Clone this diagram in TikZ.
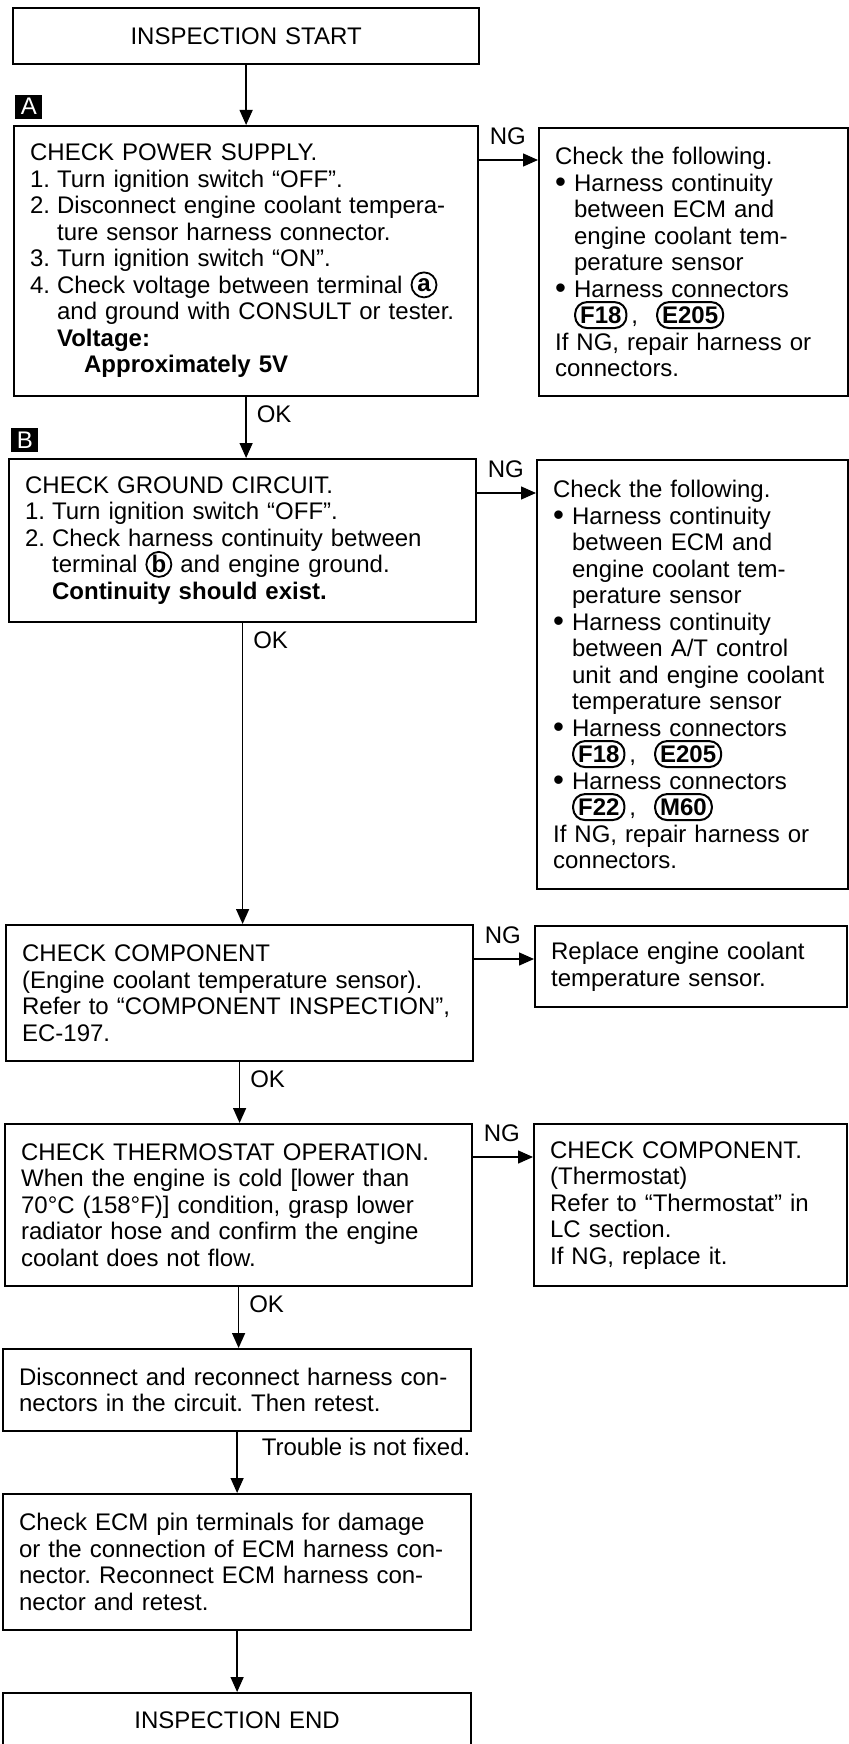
\documentclass[tikz,border=0pt]{standalone}
\usepackage{graphicx}
\usepackage{fontspec}
\setmainfont{Liberation Sans}
\usetikzlibrary{arrows.meta}

\newcommand{\numit}[1]{\makebox[13.5pt][l]{#1}}
\newcommand{\numind}{\hspace*{13.5pt}}
\newcommand{\bulit}{\makebox[9.5pt][l]{\raisebox{-.6pt}{\scalebox{1.3}{\textbullet}}}}
\newcommand{\bulind}{\hspace*{9.5pt}}
\newcommand{\termc}[1]{\smash{\tikz[baseline={([yshift=-4.3pt]t.center)}]
 \node[draw,circle,line width=.9pt,inner sep=0pt,minimum size=12.5pt,text width={},
 align=center,anchor=center,font=\bfseries] (t) {#1};}}
\newcommand{\connov}[1]{\smash{\tikz[baseline={([yshift=-4.3pt]c.center)}]
 \node[draw,rectangle,rounded corners=6pt,line width=1pt,inner xsep=2.5pt,inner ysep=0pt,
 minimum width=0pt,minimum height=13pt,text width={},align=center,anchor=center,
 font=\bfseries] (c) {#1};}}

\begin{document}
\frenchspacing
\begin{tikzpicture}[x=.5pt,y=-.5pt,>={Triangle[length=7.5pt,width=6.5pt]},
 font=\fontsize{12pt}{13.25pt}\selectfont,
 box/.style={draw,line width=1.1pt,anchor=north west,align=left,inner xsep=8pt,inner ysep=0pt},
 tag/.style={fill=black,text=white,inner sep=0pt,minimum width=13.5pt,minimum height=12pt,
 anchor=south west},
 link/.style={->,line width=.7pt},
 ok/.style={pos=0,anchor=north west,inner sep=0pt,xshift=5pt,yshift=-4pt},
 ng/.style={pos=0,anchor=base west,inner sep=0pt,xshift=5pt,yshift=7.75pt}]
\useasboundingbox (0,0) rectangle (849,1744);

% main column
\node[box,align=center,text width=217pt,minimum height=28pt] (start) at (12,7) {INSPECTION START};
\node[box,text width=216pt,minimum height=135pt] (pw) at (13,125) {CHECK POWER SUPPLY.\\
\numit{1.}Turn ignition switch “OFF”.\\
\numit{2.}Disconnect engine coolant tempera-\\
\numind ture sensor harness connector.\\
\numit{3.}Turn ignition switch “ON”.\\
\numit{4.}Check voltage between terminal \termc{a}\\
\numind and ground with CONSULT or tester.\\
\numind\textbf{Voltage:}\\
\numind\numind\textbf{Approximately 5V}};
\node[box,text width=217.5pt,minimum height=81.5pt] (gnd) at (8,458) {CHECK GROUND CIRCUIT.\\
\numit{1.}Turn ignition switch “OFF”.\\
\numit{2.}Check harness continuity between\\
\numind terminal \termc{b} and engine ground.\\
\numind\textbf{Continuity should exist.}};
\node[box,text width=217.5pt,minimum height=68pt] (comp) at (5,924) {CHECK COMPONENT\\
(Engine coolant temperature sensor).\\
Refer to “COMPONENT INSPECTION”,\\
EC-197.};
\node[box,text width=217.5pt,minimum height=81pt] (th) at (4,1123) {CHECK THERMOSTAT OPERATION.\\
When the engine is cold [lower than\\
70°C (158°F)] condition, grasp lower\\
radiator hose and confirm the engine\\
coolant does not flow.};
\node[box,text width=218pt,minimum height=41pt] (rc) at (2,1348) {Disconnect and reconnect harness con-\\
nectors in the circuit. Then retest.};
\node[box,text width=218pt,minimum height=68pt] (ecm) at (2,1493) {Check ECM pin terminals for damage\\
or the connection of ECM harness con-\\
nector. Reconnect ECM harness con-\\
nector and retest.};
\node[box,align=center,text width=218pt,minimum height=27pt] (stop) at (2,1692) {INSPECTION END};

% NG column
\node[box,text width=138.5pt,minimum height=134pt] (pwng) at (538,127) {Check the following.\\
\bulit Harness continuity\\
\bulind between ECM and\\
\bulind engine coolant tem-\\
\bulind perature sensor\\
\bulit Harness connectors\\
\bulind\connov{F18}\hspace{2pt},\hspace{9pt}\connov{E205}\\
If NG, repair harness or\\
connectors.};
\node[box,text width=139.5pt,minimum height=214.5pt] (gndng) at (536,459) {Check the following.\\
\bulit Harness continuity\\
\bulind between ECM and\\
\bulind engine coolant tem-\\
\bulind perature sensor\\
\bulit Harness continuity\\
\bulind between A/T control\\
\bulind unit and engine coolant\\
\bulind temperature sensor\\
\bulit Harness connectors\\
\bulind\connov{F18}\hspace{2pt},\hspace{9pt}\connov{E205}\\
\bulit Harness connectors\\
\bulind\connov{F22}\hspace{2pt},\hspace{9pt}\connov{M60}\\
If NG, repair harness or\\
connectors.};
\node[box,text width=140pt,minimum height=40.5pt] (compng) at (534,925) {Replace engine coolant\\
temperature sensor.};
\node[box,text width=140.5pt,minimum height=81pt] (thng) at (533,1123) {CHECK COMPONENT.\\
(Thermostat)\\
Refer to “Thermostat” in\\
LC section.\\
If NG, replace it.};

\node[tag] (tagA) at ([xshift=1pt,yshift=3pt]pw.north west) {A};
\node[tag] (tagB) at ([xshift=1.5pt,yshift=2.75pt]gnd.north west) {B};

% OK flow
\draw[link] (start.south) -- (start.south |- pw.north);
\draw[link] (pw.south) -- node[ok]{OK} (pw.south |- gnd.north);
\draw[link] (gnd.south) -- node[ok]{OK} (gnd.south |- comp.north);
\draw[link] (comp.south) -- node[ok]{OK} (comp.south |- th.north);
\draw[link] (th.south) -- node[ok]{OK} (th.south |- rc.north);
\draw[link] (rc.south) -- node[pos=0,anchor=north west,inner sep=0pt,xshift=12pt,yshift=-2.5pt]
 {Trouble is not fixed.} (rc.south |- ecm.north);
\draw[link] (ecm.south) -- (ecm.south |- stop.north);

% NG flow
\coordinate (pwout) at ([yshift=-17.5pt]pw.north east);
\coordinate (gndout) at ([yshift=-17.5pt]gnd.north east);
\coordinate (compout) at ([yshift=-17.5pt]comp.north east);
\coordinate (thout) at ([yshift=-17pt]th.north east);
\draw[link] (pwout) -- node[ng]{NG} (pwout -| pwng.west);
\draw[link] (gndout) -- node[ng]{NG} (gndout -| gndng.west);
\draw[link] (compout) -- node[ng]{NG} (compout -| compng.west);
\draw[link] (thout) -- node[ng]{NG} (thout -| thng.west);
\end{tikzpicture}
\end{document}
